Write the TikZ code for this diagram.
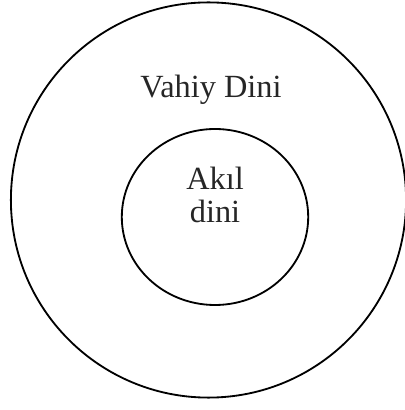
\documentclass[tikz,border=0pt]{standalone}
\usepackage{fontspec}
\setmainfont{Liberation Serif}
\begin{document}
\begin{tikzpicture}[line width=1.3pt]
    \tikzset{label text/.style={anchor=base, text=black!85, font=\fontsize{23}{25}\selectfont}}
    \useasboundingbox (0,0) rectangle (10.1,10.25);

    \coordinate (O) at (5.2125,5.25);
    \coordinate (I) at (5.375,4.825);

    \draw (O) circle (4.94);
    \draw (I) ellipse (2.33 and 2.2);

    \node[label text] (vahiy) at (5.275,7.8) {Vahiy Dini};
    \node[label text] (akil) at (5.375,5.5) {Akıl};
    \node[label text] (dini) at (5.375,4.675) {dini};
\end{tikzpicture}
\end{document}
